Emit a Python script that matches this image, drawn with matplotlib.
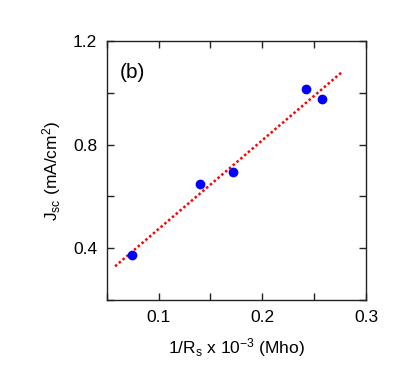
import matplotlib
matplotlib.use("Agg")
import matplotlib.pyplot as plt
from matplotlib.ticker import MultipleLocator

plt.rcParams["font.family"] = ["Liberation Sans", "DejaVu Sans"]
plt.rcParams["mathtext.default"] = "regular"

# Datos medidos
inv_rs = [0.0746, 0.1397, 0.172, 0.2417, 0.258]
jsc = [0.373, 0.647, 0.696, 1.014, 0.977]

# Recta de ajuste (extremos)
fit_x = [0.058, 0.276]
fit_y = [0.330, 1.078]

fig = plt.figure(figsize=(4.09, 3.74), dpi=100)
ax = fig.add_axes([0.261, 0.198, 0.634, 0.692])

ax.plot(fit_x, fit_y, color="#ff0000", linewidth=1.8, linestyle=(0, (1, 1)), zorder=2)
ax.plot(inv_rs, jsc, "o", color="#0000ff", markersize=6, zorder=3)

ax.set_xlim(0.05, 0.3)
ax.set_ylim(0.2, 1.2)
ax.xaxis.set_major_locator(MultipleLocator(0.1))
ax.xaxis.set_minor_locator(MultipleLocator(0.05))
ax.yaxis.set_major_locator(MultipleLocator(0.4))
ax.yaxis.set_minor_locator(MultipleLocator(0.2))
ax.tick_params(which="both", direction="in", top=True, right=True,
               length=5, width=1, labelsize=12.5, colors="#222222", pad=7)
ax.tick_params(labelcolor="black")
for spine in ax.spines.values():
    spine.set_color("#222222")
    spine.set_linewidth(1)

ax.set_xlabel("1/R$_s$ x 10$^{-3}$ (Mho)", fontsize=12.5, labelpad=8)
ax.set_ylabel("J$_{sc}$ (mA/cm$^2$)", fontsize=12.5, labelpad=7)
ax.text(0.051, 0.88, "(b)", transform=ax.transAxes, fontsize=15, va="center", ha="left")

plt.savefig("out.png", dpi=100)
